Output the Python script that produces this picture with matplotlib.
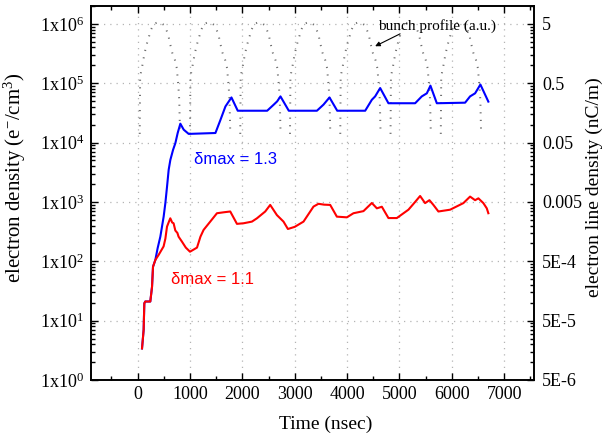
import numpy as np
import matplotlib
matplotlib.use("Agg")
import matplotlib.pyplot as plt
from matplotlib.ticker import MultipleLocator, FixedLocator, LogLocator, NullFormatter

plt.rcParams['font.family'] = ['Liberation Serif', 'DejaVu Serif']
plt.rcParams['mathtext.fontset'] = 'custom'
plt.rcParams['mathtext.rm'] = 'Liberation Serif'
plt.rcParams['mathtext.it'] = 'Liberation Serif:italic'

# electron density, delta_max = 1.1 (time in ns, density in e-/cm^3)
t_red = [84, 115, 128, 147, 242, 275, 294, 338, 401, 496, 530, 561, 600, 624, 660,
         687, 720, 760, 782, 847, 920, 1000, 1134, 1200, 1260, 1387, 1515, 1650, 1769,
         1897, 2023, 2183, 2279, 2437, 2532, 2660, 2786, 2870, 3000, 3168, 3359, 3454,
         3560, 3678, 3805, 3996, 4122, 4313, 4473, 4569, 4664, 4790, 4950, 5172, 5300,
         5395, 5490, 5573, 5649, 5744, 5968, 6221, 6349, 6445, 6508, 6603, 6668, 6698]
n_red = [3.4, 7, 19.6, 21, 21, 37, 81, 105, 128, 178, 240, 383, 470, 530, 450,
         437, 330, 300, 260, 214, 170, 145, 170, 260, 338, 466, 645, 670, 690,
         427, 437, 466, 530, 690, 890, 600, 466, 350, 380, 466, 835, 930,
         900, 890, 565, 550, 645, 700, 960, 780, 830, 535, 535, 740, 1000,
         1260, 955, 1070, 890, 690, 740, 955, 1230, 1070, 1150, 955, 780, 645]

# electron density, delta_max = 1.3
t_blue = [84, 115, 128, 147, 242, 275, 294, 338, 382, 434, 497, 530, 562, 593, 625,
          677, 721, 765, 816, 880, 975, 1486, 1581, 1677, 1792, 1912, 2474, 2600,
          2665, 2728, 2887, 3424, 3550, 3664, 3812, 4346, 4473, 4536, 4632, 4790,
          5300, 5427, 5523, 5592, 5714, 6254, 6349, 6445, 6546, 6698]
n_blue = [3.4, 7, 19.6, 21, 21, 37, 81, 105, 166, 260, 565, 960, 1820, 3480, 5100,
          7550, 9800, 14500, 20800, 16500, 14000, 14500, 24000, 40600, 57600, 34400,
          34400, 43600, 49500, 60000, 34400, 34400, 43600, 57600, 34400, 34400,
          52600, 60000, 83000, 46000, 46000, 60000, 67600, 91000, 46000, 47000,
          60000, 67600, 95000, 49000]

# bunch profile (a.u.): one bunch shape and the bunch start times
bunch_start = [40, 1000, 1960, 2910, 3870, 4830, 5790]
bunch_offset = [0, 8, 46, 92, 139, 216, 270, 331, 408, 462, 539, 578, 624, 670,
                708, 739, 755, 770]
bunch_shape = [1.4e4, 1.3e5, 1.9e5, 3.2e5, 4.7e5, 8.0e5, 1.0e6, 1.05e6, 1.03e6,
               9.6e5, 6.9e5, 4.7e5, 3.2e5, 2.5e5, 1.8e5, 8.7e4, 5.2e4, 1.4e4]

left_ticks = [1e0, 1e1, 1e2, 1e3, 1e4, 1e5, 1e6]
left_labels = ["1x10$^{%d}$" % k for k in range(7)]
right_labels = ["5E-6", "5E-5", "5E-4", "0.005", "0.05", "0.5", "5"]

prof_t, prof_v = [], []
for t0 in bunch_start:
    prof_t += [t0 + o for o in bunch_offset] + [np.nan]
    prof_v += bunch_shape + [np.nan]

fig = plt.figure(figsize=(6.08, 4.45), dpi=100)
ax = fig.add_axes([0.1497, 0.1461, 0.7286, 0.8404])

ax.plot(prof_t, prof_v, color='#6e6e6e', linewidth=1.4, linestyle=(0, (0.6, 3.3)))
ax.plot(t_blue, n_blue, color='#0000ff', linewidth=1.5)
ax.plot(t_red, n_red, color='#ff0000', linewidth=1.5)

ax.set_yscale('log')
ax.set_xlim(-890, 7570)
ax.set_ylim(1, 2e6)

ax.xaxis.set_major_locator(MultipleLocator(1000))
ax.xaxis.set_minor_locator(MultipleLocator(500))
ax.yaxis.set_major_locator(FixedLocator(left_ticks))
ax.set_yticklabels(left_labels)
ax.yaxis.set_minor_locator(LogLocator(base=10, subs=np.arange(2, 10)))
ax.yaxis.set_minor_formatter(NullFormatter())

ax.grid(True, which='major', color='#b4b4b4', linestyle=(0, (1, 4)), linewidth=0.9)

ax.tick_params(which='both', direction='in', top=True, right=False, width=1.0,
               labelsize=13)
ax.tick_params(which='major', length=5)
ax.tick_params(which='minor', length=2.8)
ax.tick_params(axis='x', pad=4)
ax.tick_params(axis='y', pad=5)
for s in ax.spines.values():
    s.set_linewidth(1.2)

# right axis: electron line density
ax2 = ax.twinx()
ax2.set_yscale('log')
ax2.set_ylim(ax.get_ylim())
ax2.yaxis.set_major_locator(FixedLocator(left_ticks))
ax2.set_yticklabels(right_labels)
ax2.yaxis.set_minor_locator(LogLocator(base=10, subs=np.arange(2, 10)))
ax2.yaxis.set_minor_formatter(NullFormatter())
ax2.tick_params(which='both', direction='in', width=1.0, labelsize=13, pad=6)
ax2.tick_params(which='major', length=5)
ax2.tick_params(which='minor', length=2.8)
for s in ax2.spines.values():
    s.set_linewidth(1.2)

ax.set_xlabel("Time (nsec)", fontsize=14)
ax.xaxis.set_label_coords(0.529, -0.096)
ax.set_ylabel("electron density (e$^{-}$/cm$^{3}$)", fontsize=15)
ax.yaxis.set_label_coords(-0.142, 0.541)
ax2.set_ylabel("electron line density (nC/m)", fontsize=14)
ax2.yaxis.set_label_coords(1.117, 0.516)

ax.text(1085, 5100, "\u03b4max = 1.3", color='#0000ff', fontsize=12,
        family='Liberation Sans', va='center', ha='left')
ax.text(640, 50, "\u03b4max = 1.1", color='#ff0000', fontsize=12,
        family='Liberation Sans', va='center', ha='left')

ax.text(4593, 9.3e5, "bunch profile (a.u.)", fontsize=11, va='center', ha='left')
ax.annotate("", xy=(4536, 4.2e5), xytext=(5013, 6.8e5),
            arrowprops=dict(arrowstyle='-|>', color='black', lw=0.8,
                            mutation_scale=7, shrinkA=0, shrinkB=0))

fig.savefig("out.png", dpi=100)
